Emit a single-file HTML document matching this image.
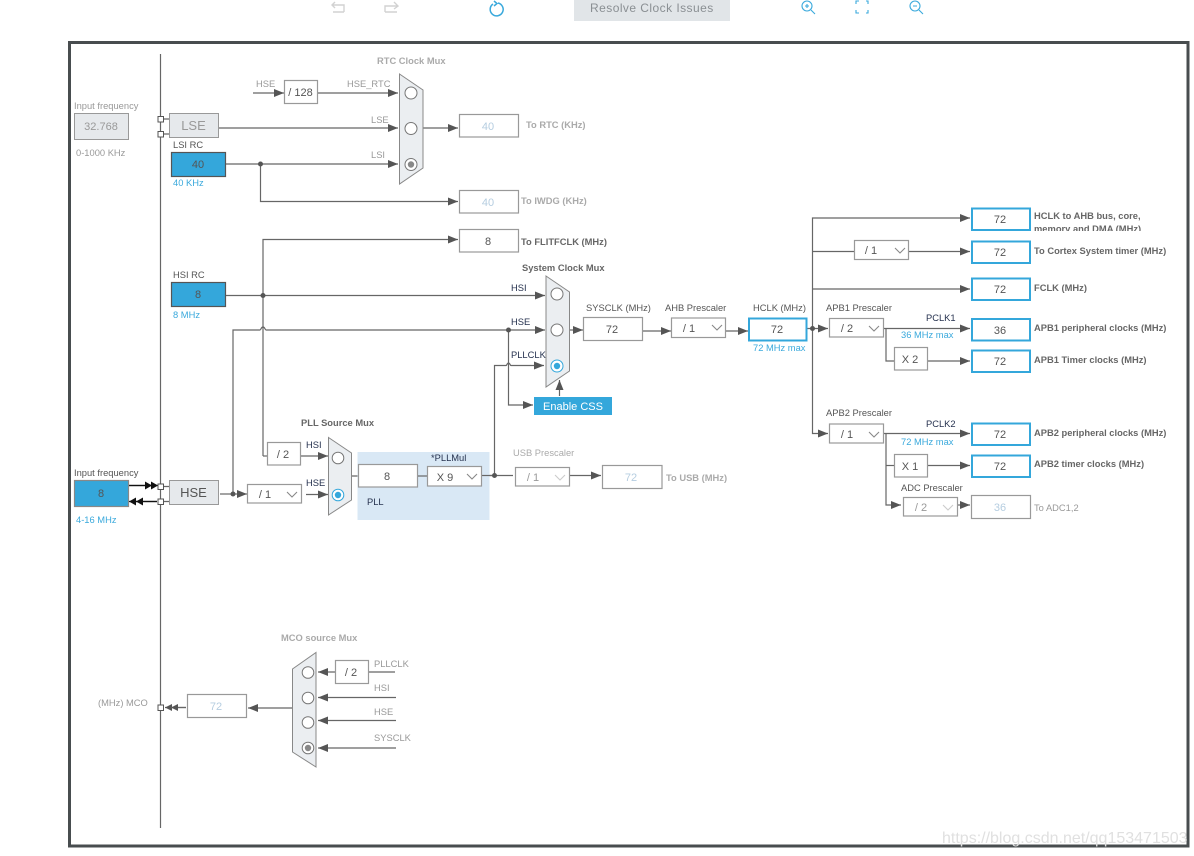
<!DOCTYPE html>
<html><head><meta charset="utf-8"><style>
html,body{margin:0;padding:0;background:#fff}
svg{display:block;font-family:"Liberation Sans",sans-serif;font-size:9.35px}
.l{stroke:#666;stroke-width:1.2;fill:none}
.a{stroke:#666;stroke-width:1.2;fill:none;marker-end:url(#ar)}
.g{fill:#999}.d{fill:#555}.n{fill:#26324f}.b{fill:#3aa9dc}
.bd{font-weight:bold;fill:#666}.bg{font-weight:bold;fill:#aaa}
.box{fill:#fff;stroke:#999;stroke-width:1.2}
.hb{fill:#fff;stroke:#34a7db;stroke-width:2}
.v{font-size:11px;text-anchor:middle;fill:#555}
.vg{font-size:11px;text-anchor:middle;fill:#b5cde0}
.blue{fill:#34a7db;stroke:#555;stroke-width:1.2}
.mux{fill:#ebeef1;stroke:#888;stroke-width:1}
.c{fill:#fff;stroke:#777;stroke-width:1}
.ch{fill:none;stroke:#888;stroke-width:1.1}
.dot{fill:#555}
.pt{fill:#fff;stroke:#555;stroke-width:1}
</style></head><body>
<svg width="1194" height="856" viewBox="0 0 1194 856">
<defs>
<marker id="ar" markerUnits="userSpaceOnUse" markerWidth="11" markerHeight="9" refX="10" refY="4" orient="auto"><path d="M0 0L10 4L0 8z" fill="#555"/></marker>
<marker id="bk" markerUnits="userSpaceOnUse" markerWidth="8" markerHeight="9" refX="7" refY="4" orient="auto"><path d="M0 0L7 4L0 8z" fill="#111"/></marker>
<marker id="sm" markerUnits="userSpaceOnUse" markerWidth="8" markerHeight="9" refX="7" refY="4" orient="auto"><path d="M0 0.500L7 4L0 7.500z" fill="#555"/></marker>
<clipPath id="cp"><rect x="1030" y="205" width="140" height="26"/></clipPath>
</defs>

<!-- toolbar -->
<g fill="none" stroke="#d2d2d2" stroke-width="1.4">
<path d="M344 12H333M335 2L332 5L335 8M332 5H344V12"/>
<path d="M385 12H397M385 12V6H397M394 2L398 6L394 9"/>
</g>
<path d="M493 4A6.500 6.500 0 1 0 498 3M494 1L497 3.500L494 6" fill="none" stroke="#3aa9dc" stroke-width="1.500"/>
<rect x="574" y="0" width="156" height="21" fill="#e1e5e8"/>
<text x="590" y="12" style="font-size:12px;letter-spacing:.45px" fill="#8a8f93">Resolve Clock Issues</text>
<g fill="none" stroke="#3aa9dc" stroke-width="1.100">
<circle cx="807" cy="6" r="5"/><path d="M811 10L815 14M805 6H809M807 4V8"/>
<path d="M856 4V1H859M866 1H868V4M868 10V13H866M859 13H856V10"/>
<circle cx="915" cy="6" r="5"/><path d="M919 10L923 14M913 6H917"/>
</g>

<!-- frame -->
<rect x="69.500" y="42.500" width="1118.500" height="803.500" fill="none" stroke="#484d4f" stroke-width="3"/>
<path d="M160.500 54V828" stroke="#666" stroke-width="1.200"/>

<!-- connectors -->
<path class="a" d="M253 93H284"/>
<path class="a" d="M318 93H398"/>
<path class="a" d="M219 128H398"/>
<path class="a" d="M226 164H398"/>
<path class="a" d="M260.500 164V201.500H458"/>
<path class="a" d="M423 128H458"/>
<path class="a" d="M263 456V239.500H458"/>
<path class="l" d="M263 456H267"/>
<path class="a" d="M226 295.500H545"/>
<path class="a" d="M233 494V330H260C261 330 261 327 263 327C265 327 265 330 266 330H545"/>
<path class="a" d="M508.500 330V405H533"/>
<path class="a" d="M494.500 475.500V365.500H506C507 365.500 507 363 508.500 363C510 363 510 365.500 511 365.500H544"/>
<path class="a" d="M559.500 396V380"/>
<path class="a" d="M570 330H583"/>
<path class="a" d="M643 331H671"/>
<path class="a" d="M726 331H748"/>
<path class="a" d="M807 328.500H828"/>
<path class="a" d="M812.500 328.500V218H970"/>
<path class="a" d="M812.500 328.500V433.500H828"/>
<path class="l" d="M812.500 251.500H854"/>
<path class="a" d="M909 251.500H970"/>
<path class="a" d="M812.500 289H970"/>
<path class="a" d="M884 328.500H970"/>
<path class="l" d="M886 328.500V361H894"/>
<path class="a" d="M928 361H970"/>
<path class="a" d="M884 433.500H970"/>
<path class="a" d="M886 433.500V505H901"/>
<path class="l" d="M886 465.500H894"/>
<path class="a" d="M928 465.500H970"/>
<path class="a" d="M958 505H970"/>
<path class="l" d="M220 494H233"/>
<path class="a" d="M233 494H247"/>
<path class="a" d="M306 494.500H328"/>
<path class="a" d="M301 456H328"/>
<path class="l" d="M352 476H358M418 476H427"/>
<path class="l" d="M482 475.500H513"/>
<path class="a" d="M570 475.500H601"/>
<path class="l" d="M163 486.500H169M163 501.500H169M163 119H169M163 134H169"/>
<path d="M129 485.500H158" stroke="#111" stroke-width="1.200" marker-end="url(#bk)"/>
<path d="M129 485.500H152" stroke="#111" stroke-width="1.200" marker-end="url(#bk)"/>
<path d="M157 501.500H129" stroke="#111" stroke-width="1.200" marker-end="url(#bk)"/>
<path d="M157 501.500H136" stroke="#111" stroke-width="1.200" marker-end="url(#bk)"/>
<path d="M395 672H369" class="l"/>
<path class="a" d="M335 672H318"/>
<path class="a" d="M396 697.500H318"/>
<path class="a" d="M396 720.500H318"/>
<path class="a" d="M396 748H318"/>
<path class="a" d="M292 708H248"/>
<path d="M186 707.500H165" stroke="#666" stroke-width="1.200" marker-end="url(#sm)"/>
<path d="M186 707.500H171" stroke="#666" stroke-width="1.200" marker-end="url(#sm)"/>

<!-- dots -->
<circle class="dot" cx="260.500" cy="164" r="2.500"/>
<circle class="dot" cx="263" cy="295.500" r="2.500"/>
<circle class="dot" cx="233" cy="494" r="2.500"/>
<circle class="dot" cx="508.500" cy="330" r="2.500"/>
<circle class="dot" cx="812.500" cy="328.500" r="2.500"/>

<!-- junction squares -->
<rect class="pt" x="158" y="116.500" width="5.500" height="5.500"/>
<rect class="pt" x="158" y="131.500" width="5.500" height="5.500"/>
<rect class="pt" x="158" y="484" width="5.500" height="5.500"/>
<rect class="pt" x="158" y="499" width="5.500" height="5.500"/>
<rect class="pt" x="158" y="705" width="5.500" height="5.500"/>

<!-- left column -->
<text class="g" x="74" y="109">Input frequency</text>
<rect x="74.500" y="113.500" width="54" height="26" fill="#e6e9ec" stroke="#999" stroke-width="1"/>
<text class="v" x="101" y="130" style="fill:#999">32.768</text>
<text class="g" x="76" y="156">0-1000 KHz</text>
<rect x="169.500" y="113.500" width="49" height="24" fill="#e6e9ec" stroke="#999"/>
<text x="193.500" y="130" text-anchor="middle" style="font-size:13px" fill="#999">LSE</text>
<text class="d" x="173" y="148">LSI RC</text>
<rect class="blue" x="171.500" y="152.500" width="54" height="24"/>
<text class="v" x="198" y="168">40</text>
<text class="b" x="173" y="186">40 KHz</text>
<text class="d" x="173" y="278">HSI RC</text>
<rect class="blue" x="171.500" y="282.500" width="54" height="24"/>
<text class="v" x="198" y="298">8</text>
<text class="b" x="173" y="318">8 MHz</text>
<text class="d" x="74" y="476">Input frequency</text>
<rect x="74.500" y="480.500" width="54" height="26" fill="#34a7db" stroke="#888" stroke-width="1.200"/>
<text class="v" x="101" y="497">8</text>
<text class="b" x="76" y="523">4-16 MHz</text>
<rect x="169.500" y="480.500" width="49" height="24" fill="#e6e9ec" stroke="#999"/>
<text x="193.500" y="497" text-anchor="middle" style="font-size:13px" fill="#555">HSE</text>

<!-- RTC mux -->
<text class="bg" x="377" y="64">RTC Clock Mux</text>
<text class="g" x="256" y="87">HSE</text>
<rect class="box" x="284.500" y="80.500" width="33" height="23"/>
<text class="v" x="300.500" y="96">/ 128</text>
<text class="g" x="347" y="87">HSE_RTC</text>
<text class="g" x="371" y="123">LSE</text>
<text class="g" x="371" y="158">LSI</text>
<polygon class="mux" points="399.500,74 423,90 423,168 399.500,184"/>
<circle class="c" cx="411" cy="93" r="6"/><circle class="c" cx="411" cy="128.500" r="6"/>
<circle class="c" cx="411" cy="164.500" r="6"/><circle cx="411" cy="164.500" r="3.200" fill="#888"/>
<rect class="box" x="459.500" y="114.500" width="59" height="22.500"/>
<text class="vg" x="488" y="130">40</text>
<text class="bg" x="526" y="128">To RTC (KHz)</text>
<rect class="box" x="459.500" y="190.500" width="59" height="22.500"/>
<text class="vg" x="488" y="206">40</text>
<text class="bg" x="521" y="204">To IWDG (KHz)</text>
<rect class="box" x="459.500" y="229.500" width="59" height="22.500"/>
<text class="v" x="488" y="245">8</text>
<text class="bd" x="521" y="245">To FLITFCLK (MHz)</text>

<!-- system mux -->
<text class="bd" x="522" y="271">System Clock Mux</text>
<text class="n" x="511" y="291">HSI</text>
<text class="n" x="511" y="325">HSE</text>
<text class="n" x="511" y="358">PLLCLK</text>
<polygon class="mux" points="546,276 569.500,292 569.500,371 546,387"/>
<circle class="c" cx="557" cy="294" r="6"/><circle class="c" cx="557" cy="330" r="6"/>
<circle cx="557" cy="366" r="6" fill="#fff" stroke="#34a7db"/><circle cx="557" cy="366" r="3.200" fill="#34a7db"/>
<rect x="534" y="397" width="78" height="18" fill="#34a7db"/>
<text x="573" y="410" text-anchor="middle" style="font-size:11px" fill="#fff">Enable CSS</text>
<text class="d" x="586" y="311">SYSCLK (MHz)</text>
<rect class="box" x="583.500" y="317.500" width="59" height="23"/>
<text class="v" x="612" y="333">72</text>
<text class="d" x="665" y="311">AHB Prescaler</text>
<rect class="box" x="671.500" y="318" width="54" height="19.500"/>
<text class="v" x="689" y="332">/ 1</text>
<path class="ch" d="M712 325L717 330L722 325"/>
<text class="d" x="753" y="311">HCLK (MHz)</text>
<rect class="hb" x="749" y="318.500" width="57.500" height="22"/>
<text class="v" x="777" y="333">72</text>
<text class="b" x="753" y="351">72 MHz max</text>

<!-- PLL -->
<text class="bd" x="301" y="426">PLL Source Mux</text>
<rect class="box" x="267.500" y="442.500" width="33" height="22.500"/>
<text class="v" x="283" y="458">/ 2</text>
<text class="n" x="306" y="448">HSI</text>
<text class="n" x="306" y="486">HSE</text>
<rect class="box" x="247.500" y="484.500" width="54" height="18.500"/>
<text class="v" x="265" y="498">/ 1</text>
<path class="ch" d="M287 492L292 497L297 492"/>
<polygon class="mux" points="328.500,437.500 351.500,453 351.500,500 328.500,515"/>
<circle class="c" cx="338" cy="458" r="5.800"/>
<circle cx="338" cy="495" r="5.800" fill="#fff" stroke="#34a7db"/><circle cx="338" cy="495" r="3.200" fill="#34a7db"/>
<rect x="357.500" y="452" width="132" height="68" fill="#d9e8f5"/>
<path class="l" d="M482 475.500H494"/>
<circle class="dot" cx="494.500" cy="475.500" r="2.500"/>
<rect class="box" x="358.500" y="464.500" width="59" height="22.500"/>
<text class="v" x="387" y="480">8</text>
<path class="l" d="M418 476H427"/>
<text class="n" x="431" y="461">*PLLMul</text>
<rect class="box" x="427.500" y="466.500" width="54" height="19.500"/>
<text class="v" x="445" y="481">X 9</text>
<path class="ch" d="M467 474L472 479L477 474"/>
<text class="n" x="367" y="505">PLL</text>

<!-- USB -->
<text class="g" x="513" y="456" style="fill:#aaa">USB Prescaler</text>
<rect class="box" x="515.500" y="467.500" width="54" height="18.500"/>
<text class="v" x="533" y="481" style="fill:#999">/ 1</text>
<path d="M555 475L560 480L565 475" fill="none" stroke="#ccc" stroke-width="1.100"/>
<rect class="box" x="602.500" y="465.500" width="59.500" height="23"/>
<text class="vg" x="631" y="481">72</text>
<text class="bg" x="666" y="481">To USB (MHz)</text>

<!-- right side -->
<rect class="hb" x="972" y="208.500" width="58" height="21.500"/><text class="v" x="1000" y="223">72</text>
<g clip-path="url(#cp)"><text class="bd" x="1034" y="219">HCLK to AHB bus, core,</text>
<text class="bd" x="1034" y="232">memory and DMA (MHz)</text></g>
<rect class="box" x="854.500" y="240.500" width="54" height="19"/>
<text class="v" x="871" y="254">/ 1</text>
<path class="ch" d="M895 248L900 253L905 248"/>
<rect class="hb" x="972" y="241.500" width="58" height="21.500"/><text class="v" x="1000" y="256">72</text>
<text class="bd" x="1034" y="254">To Cortex System timer (MHz)</text>
<rect class="hb" x="972" y="278.500" width="58" height="21.500"/><text class="v" x="1000" y="293">72</text>
<text class="bd" x="1034" y="291">FCLK (MHz)</text>

<text class="d" x="826" y="311">APB1 Prescaler</text>
<rect class="box" x="829.500" y="318.500" width="54" height="18.500"/>
<text class="v" x="847" y="332">/ 2</text>
<path class="ch" d="M869 326L874 331L879 326"/>
<text class="n" x="926" y="321">PCLK1</text>
<text class="b" x="901" y="338">36 MHz max</text>
<rect class="hb" x="972" y="319" width="58" height="21.500"/><text class="v" x="1000" y="334">36</text>
<text class="bd" x="1034" y="331">APB1 peripheral clocks (MHz)</text>
<rect class="box" x="894.500" y="347.500" width="33" height="22.500"/>
<text class="v" x="910" y="363">X 2</text>
<rect class="hb" x="972" y="350.500" width="58" height="21.500"/><text class="v" x="1000" y="365">72</text>
<text class="bd" x="1034" y="363">APB1 Timer clocks (MHz)</text>

<text class="d" x="826" y="416">APB2 Prescaler</text>
<rect class="box" x="829.500" y="424" width="54" height="19"/>
<text class="v" x="847" y="438">/ 1</text>
<path class="ch" d="M869 432L874 437L879 432"/>
<text class="n" x="926" y="427">PCLK2</text>
<text class="b" x="901" y="445">72 MHz max</text>
<rect class="hb" x="972" y="423.500" width="58" height="21.500"/><text class="v" x="1000" y="438">72</text>
<text class="bd" x="1034" y="436">APB2 peripheral clocks (MHz)</text>
<rect class="box" x="894.500" y="454.500" width="33" height="22.500"/>
<text class="v" x="910" y="470">X 1</text>
<rect class="hb" x="972" y="455.500" width="58" height="21.500"/><text class="v" x="1000" y="470">72</text>
<text class="bd" x="1034" y="467">APB2 timer clocks (MHz)</text>
<text class="d" x="901" y="491">ADC Prescaler</text>
<rect class="box" x="903.500" y="497.500" width="54" height="18.500"/>
<text class="v" x="921" y="511" style="fill:#999">/ 2</text>
<path d="M943 505L948 510L953 505" fill="none" stroke="#ccc" stroke-width="1.100"/>
<rect class="box" x="971.500" y="495.500" width="59" height="23"/>
<text class="vg" x="1000" y="511">36</text>
<text class="g" x="1034" y="511">To ADC1,2</text>

<!-- MCO -->
<text class="bg" x="281" y="641">MCO source Mux</text>
<polygon class="mux" points="316,652.500 316,767 292.500,752 292.500,669"/>
<circle class="c" cx="308" cy="672.500" r="5.800"/><circle class="c" cx="308" cy="698" r="5.800"/>
<circle class="c" cx="308" cy="722.500" r="5.800"/><circle class="c" cx="308" cy="748" r="5.800"/>
<circle cx="308" cy="748" r="3.200" fill="#888"/>
<rect class="box" x="335.500" y="660.500" width="33" height="23"/>
<text class="v" x="351" y="676">/ 2</text>
<text class="g" x="374" y="667">PLLCLK</text>
<text class="g" x="374" y="691">HSI</text>
<text class="g" x="374" y="715">HSE</text>
<text class="g" x="374" y="741">SYSCLK</text>
<rect class="box" x="187.500" y="694.500" width="59" height="23"/>
<text class="vg" x="216" y="710">72</text>
<text class="g" x="98" y="706">(MHz) MCO</text>

<!-- watermark -->
<text x="942" y="843" style="font-size:16px" fill="#e0e0e0">https://blog.csdn.net/qq153471503</text>
</svg>
</body></html>
